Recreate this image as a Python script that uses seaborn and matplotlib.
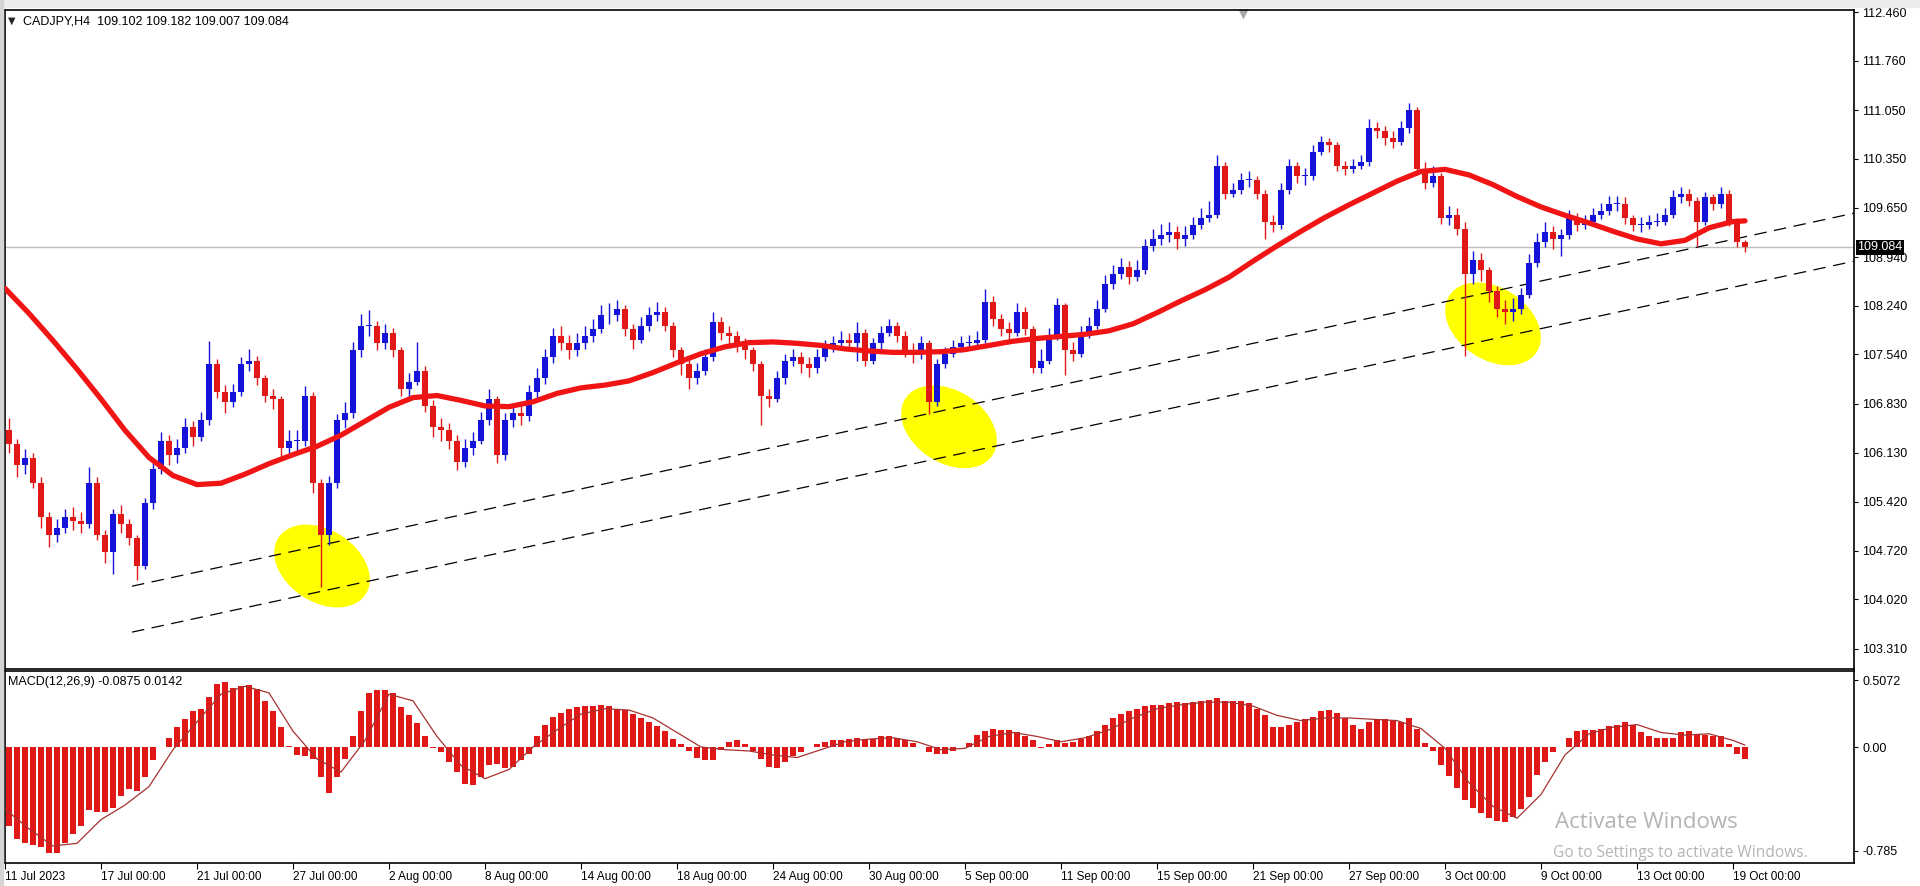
import numpy as np
import matplotlib
matplotlib.use("Agg")
import matplotlib.pyplot as plt
import seaborn as sns
from matplotlib.patches import Ellipse, Rectangle
from matplotlib.transforms import ScaledTranslation

# CADJPY H4 chart, candles merged by two (8h), one row per trading day
first_open = 106.45
close = [
    106.25, 105.95, 106.05,  # 11 Jul
    105.70, 105.20, 104.95,
    105.05, 105.20, 105.15,
    105.10, 105.70, 104.95,
    104.70, 105.25, 105.10,  # 17 Jul
    104.90, 104.50, 105.40,
    105.90, 106.30, 106.10,
    106.20, 106.50, 106.35,
    106.60, 107.40, 107.00,  # 21 Jul
    106.85, 107.00, 107.40,
    107.45, 107.20, 106.95,
    106.90, 106.20, 106.30,
    106.30, 106.95, 105.70,  # 27 Jul
    104.95, 105.70, 106.60,
    106.70, 107.60, 107.95,
    107.95, 107.70, 107.85,
    107.60, 107.05, 107.15,  # 2 Aug
    107.30, 106.80, 106.50,
    106.45, 106.30, 106.00,
    106.20, 106.30, 106.60,
    106.90, 106.10, 106.60,  # 8 Aug
    106.70, 106.65, 107.00,
    107.20, 107.50, 107.80,
    107.70, 107.60, 107.70,
    107.80, 107.90, 108.10,  # 14 Aug
    108.10, 108.20, 107.90,
    107.75, 107.95, 108.10,
    108.15, 107.95, 107.60,
    107.40, 107.20, 107.30,  # 18 Aug
    107.50, 108.00, 107.85,
    107.80, 107.70, 107.60,
    107.40, 106.95, 106.90,
    107.20, 107.45, 107.50,  # 24 Aug
    107.40, 107.35, 107.50,
    107.65, 107.70, 107.75,
    107.70, 107.85, 107.45,
    107.70, 107.85, 107.95,  # 30 Aug
    107.80, 107.60, 107.55,
    107.70, 106.85, 107.40,
    107.55, 107.65, 107.70,
    107.70, 107.75, 108.30,  # 5 Sep
    108.05, 107.90, 107.85,
    108.15, 107.90, 107.35,
    107.45, 107.80, 108.25,
    107.60, 107.55, 107.85,  # 11 Sep
    107.95, 108.20, 108.55,
    108.70, 108.80, 108.65,
    108.75, 109.10, 109.20,
    109.25, 109.30, 109.20,  # 15 Sep
    109.25, 109.40, 109.50,
    109.55, 110.25, 109.85,
    109.90, 110.05, 110.05,
    109.85, 109.45, 109.40,  # 21 Sep
    109.90, 110.25, 110.10,
    110.10, 110.45, 110.60,
    110.55, 110.25, 110.20,
    110.25, 110.30, 110.80,  # 27 Sep
    110.75, 110.65, 110.60,
    110.80, 111.05, 110.20,
    110.00, 110.10, 109.50,
    109.55, 109.35, 108.70,  # 3 Oct
    108.90, 108.75, 108.45,
    108.20, 108.15, 108.20,
    108.40, 108.85, 109.15,
    109.30, 109.20, 109.25,  # 9 Oct
    109.50, 109.40, 109.45,
    109.55, 109.60, 109.70,
    109.70, 109.50, 109.40,
    109.40, 109.45, 109.45,  # 13 Oct
    109.55, 109.80, 109.85,
    109.75, 109.45, 109.80,
    109.70, 109.85, 109.45,
    109.15, 109.084,         # 19 Oct
]
high = [
    106.62, 106.32, 106.18, 106.12, 105.78, 105.28, 105.18, 105.32, 105.35,
    105.28, 105.92, 105.78, 105.02, 105.32, 105.38, 105.18, 104.95, 105.48,
    106.00, 106.42, 106.38, 106.32, 106.62, 106.58, 106.72, 107.74, 107.48,
    107.10, 107.12, 107.50, 107.62, 107.52, 107.25, 107.05, 106.95, 106.45,
    106.45, 107.08, 107.00, 105.75, 105.80, 106.68, 106.85, 107.72, 108.12,
    108.18, 108.02, 107.98, 107.92, 107.65, 107.28, 107.72, 107.38, 106.88,
    106.62, 106.55, 106.38, 106.32, 106.42, 106.72, 107.05, 106.95, 106.70,
    106.82, 106.80, 107.10, 107.35, 107.62, 107.92, 107.95, 107.82, 107.85,
    107.95, 108.05, 108.25, 108.28, 108.32, 108.25, 107.98, 108.08, 108.22,
    108.30, 108.22, 108.00, 107.65, 107.48, 107.42, 107.62, 108.15, 108.08,
    107.95, 107.88, 107.78, 107.65, 107.45, 107.05, 107.30, 107.55, 107.62,
    107.58, 107.50, 107.62, 107.75, 107.80, 107.88, 107.85, 108.00, 107.90,
    107.78, 107.95, 108.05, 108.00, 107.88, 107.70, 107.80, 107.75, 107.48,
    107.65, 107.75, 107.80, 107.82, 107.88, 108.48, 108.38, 108.12, 108.00,
    108.28, 108.22, 107.95, 107.62, 107.92, 108.35, 108.28, 107.72, 107.95,
    108.08, 108.32, 108.68, 108.82, 108.92, 108.88, 108.90, 109.20, 109.35,
    109.42, 109.45, 109.38, 109.38, 109.52, 109.65, 109.75, 110.40, 110.30,
    110.00, 110.15, 110.18, 110.10, 109.90, 109.55, 110.00, 110.35, 110.30,
    110.22, 110.55, 110.68, 110.65, 110.60, 110.32, 110.35, 110.40, 110.92,
    110.88, 110.82, 110.75, 110.90, 111.16, 111.10, 110.30, 110.25, 110.15,
    109.68, 109.65, 109.45, 109.02, 109.00, 108.80, 108.52, 108.32, 108.35,
    108.50, 108.98, 109.28, 109.45, 109.38, 109.35, 109.62, 109.58, 109.55,
    109.65, 109.72, 109.82, 109.82, 109.80, 109.55, 109.52, 109.55, 109.58,
    109.65, 109.90, 109.95, 109.92, 109.80, 109.88, 109.85, 109.95, 109.90,
    109.50, 109.182,
]
low = [
    106.12, 105.78, 105.82, 105.62, 105.05, 104.78, 104.85, 104.98, 105.02,
    104.98, 105.05, 104.88, 104.55, 104.38, 104.98, 104.80, 104.30, 104.45,
    105.32, 105.82, 105.95, 105.98, 106.12, 106.22, 106.30, 106.52, 106.92,
    106.70, 106.78, 106.95, 107.30, 107.10, 106.85, 106.75, 106.05, 106.10,
    106.12, 106.22, 105.55, 104.20, 104.80, 105.62, 106.48, 106.62, 107.50,
    107.80, 107.60, 107.62, 107.50, 106.95, 106.92, 107.10, 106.72, 106.35,
    106.30, 106.18, 105.88, 105.92, 106.10, 106.25, 106.52, 105.98, 106.02,
    106.50, 106.52, 106.58, 106.92, 107.12, 107.42, 107.60, 107.48, 107.52,
    107.62, 107.72, 107.85, 107.98, 108.02, 107.80, 107.62, 107.70, 107.88,
    108.02, 107.88, 107.50, 107.25, 107.05, 107.12, 107.25, 107.45, 107.75,
    107.68, 107.58, 107.48, 107.30, 106.52, 106.78, 106.85, 107.12, 107.38,
    107.28, 107.22, 107.28, 107.45, 107.58, 107.62, 107.62, 107.45, 107.38,
    107.40, 107.62, 107.80, 107.72, 107.50, 107.42, 107.48, 106.68, 106.80,
    107.35, 107.50, 107.58, 107.60, 107.62, 107.70, 107.95, 107.80, 107.75,
    107.80, 107.82, 107.28, 107.28, 107.40, 107.75, 107.25, 107.45, 107.50,
    107.78, 107.90, 108.15, 108.48, 108.62, 108.55, 108.60, 108.70, 109.02,
    109.12, 109.15, 109.05, 109.10, 109.20, 109.35, 109.45, 109.50, 109.78,
    109.80, 109.85, 109.95, 109.78, 109.20, 109.30, 109.35, 109.85, 110.00,
    109.98, 110.05, 110.40, 110.45, 110.18, 110.12, 110.15, 110.20, 110.25,
    110.65, 110.55, 110.50, 110.55, 110.72, 110.12, 109.92, 109.95, 109.42,
    109.40, 109.25, 107.52, 108.55, 108.60, 108.30, 108.08, 107.98, 108.02,
    108.12, 108.35, 108.80, 109.08, 109.05, 108.95, 109.20, 109.32, 109.35,
    109.40, 109.48, 109.55, 109.60, 109.42, 109.32, 109.30, 109.35, 109.38,
    109.40, 109.50, 109.72, 109.68, 109.10, 109.40, 109.62, 109.65, 109.38,
    109.08, 109.007,
]
# red moving average, one value per day start, last one at the final bar
ma_day = [
    108.49, 108.13, 107.74, 107.33, 106.90, 106.45, 106.06, 105.80, 105.67, 105.69,
    105.82, 105.97, 106.10, 106.22, 106.38, 106.58, 106.78, 106.92, 106.95, 106.88,
    106.80, 106.79, 106.86, 106.98, 107.06, 107.10, 107.16, 107.28, 107.42, 107.55,
    107.65, 107.71, 107.72, 107.70, 107.67, 107.62, 107.59, 107.57, 107.57, 107.58,
    107.61, 107.67, 107.73, 107.77, 107.80, 107.83, 107.88, 107.98, 108.14, 108.31,
    108.47, 108.65, 108.88, 109.10, 109.31, 109.51, 109.69, 109.86, 110.03, 110.17,
    110.20, 110.12, 109.98, 109.81, 109.66, 109.54, 109.43, 109.31, 109.20, 109.13,
    109.18, 109.36, 109.45, 109.46,
]
# MACD main values, one per candle
macd = [
    -0.60, -0.70, -0.73, -0.74, -0.76, -0.80, -0.80, -0.73, -0.66, -0.60,
    -0.48, -0.49, -0.49, -0.46, -0.37, -0.32, -0.33, -0.23, -0.10, 0.00,
    0.07, 0.15, 0.21, 0.27, 0.29, 0.38, 0.48, 0.49, 0.45, 0.46,
    0.47, 0.44, 0.35, 0.27, 0.15, 0.01, -0.06, -0.07, -0.09, -0.23,
    -0.35, -0.23, -0.09, 0.08, 0.27, 0.41, 0.43, 0.43, 0.41, 0.30,
    0.24, 0.18, 0.08, -0.01, -0.04, -0.11, -0.19, -0.28, -0.29, -0.23,
    -0.14, -0.13, -0.16, -0.15, -0.10, -0.05, 0.08, 0.17, 0.23, 0.26,
    0.29, 0.30, 0.31, 0.31, 0.32, 0.31, 0.29, 0.28, 0.25, 0.22,
    0.19, 0.16, 0.12, 0.06, 0.02, -0.03, -0.08, -0.10, -0.10, -0.02,
    0.04, 0.05, 0.02, -0.03, -0.09, -0.15, -0.16, -0.11, -0.07, -0.04,
    0.00, 0.02, 0.04, 0.05, 0.05, 0.06, 0.07, 0.06, 0.06, 0.08,
    0.08, 0.07, 0.05, 0.03, 0.00, -0.04, -0.05, -0.05, -0.03, 0.00,
    0.03, 0.09, 0.12, 0.14, 0.13, 0.13, 0.11, 0.08, 0.05, -0.01,
    0.02, 0.05, 0.03, 0.04, 0.06, 0.08, 0.12, 0.17, 0.22, 0.25,
    0.27, 0.29, 0.31, 0.32, 0.32, 0.33, 0.34, 0.33, 0.34, 0.35,
    0.36, 0.37, 0.35, 0.35, 0.35, 0.33, 0.29, 0.24, 0.15, 0.15,
    0.17, 0.19, 0.21, 0.23, 0.27, 0.28, 0.26, 0.22, 0.17, 0.14,
    0.19, 0.21, 0.21, 0.20, 0.19, 0.22, 0.14, 0.03, -0.03, -0.14,
    -0.22, -0.31, -0.40, -0.46, -0.50, -0.54, -0.56, -0.57, -0.53, -0.47,
    -0.38, -0.21, -0.11, -0.04, 0.00, 0.07, 0.12, 0.13, 0.13, 0.14,
    0.16, 0.17, 0.19, 0.17, 0.11, 0.08, 0.07, 0.07, 0.07, 0.11,
    0.12, 0.10, 0.09, 0.08, 0.08, 0.02, -0.05, -0.0875,
]
# MACD signal line, per day start + last bar
signal_day = [
    -0.47, -0.62, -0.75, -0.73, -0.55, -0.44, -0.30, -0.02, 0.19, 0.40,
    0.46, 0.41, 0.12, -0.09, -0.19, 0.05, 0.40, 0.35, 0.08, -0.14,
    -0.24, -0.17, 0.00, 0.13, 0.25, 0.29, 0.28, 0.22, 0.11, 0.00,
    -0.02, -0.03, -0.06, -0.08, -0.02, 0.04, 0.06, 0.07, 0.04, -0.02,
    -0.01, 0.08, 0.11, 0.08, 0.04, 0.07, 0.13, 0.22, 0.29, 0.32,
    0.34, 0.34, 0.31, 0.24, 0.20, 0.22, 0.22, 0.21, 0.20, 0.14,
    -0.01, -0.27, -0.45, -0.54, -0.36, -0.06, 0.10, 0.15, 0.17, 0.11,
    0.09, 0.10, 0.05, 0.0142,
]
# hand drawn channel lines (bar index, price)
channel_x = [31.75, 462.25]
channel_upper = [104.21, 109.57]
channel_lower = [103.55, 108.88]
# yellow highlight marks (bar index, price)
mark_x = [79.25, 236.0, 372.0]
mark_y = [104.50, 106.50, 107.98]

price_ticks = [112.460, 111.760, 111.050, 110.350, 109.650, 108.940, 108.240,
               107.540, 106.830, 106.130, 105.420, 104.720, 104.020, 103.310]
macd_ticks = [0.5072, 0.0, -0.785]
macd_labels = ["0.5072", "0.00", "-0.785"]
date_labels = ["11 Jul 2023", "17 Jul 00:00", "21 Jul 00:00", "27 Jul 00:00",
               "2 Aug 00:00", "8 Aug 00:00", "14 Aug 00:00", "18 Aug 00:00",
               "24 Aug 00:00", "30 Aug 00:00", "5 Sep 00:00", "11 Sep 00:00",
               "15 Sep 00:00", "21 Sep 00:00", "27 Sep 00:00", "3 Oct 00:00",
               "9 Oct 00:00", "13 Oct 00:00", "19 Oct 00:00"]
last_price = 109.084

sns.set_style("white")
plt.rcParams['font.family'] = ['Liberation Sans', 'DejaVu Sans']

W, H = 1920, 886
BLUE = '#1414d8'
RED = '#e01818'

fig = plt.figure(figsize=(W / 100, H / 100), dpi=100)


def box(x0, y0, x1, y1):
    return [x0 / W, 1 - y1 / H, (x1 - x0) / W, (y1 - y0) / H]


# window chrome
fig.patches.append(Rectangle((0, 1 - 7 / H), 1, 7 / H, transform=fig.transFigure,
                             color='#ececec', zorder=0))
fig.patches.append(Rectangle((0, 0), 3 / W, 1, transform=fig.transFigure,
                             color='#d4d4d4', zorder=0))

ax = fig.add_axes(box(5, 10, 1854, 669))
axm = fig.add_axes(box(5, 671, 1854, 863), sharex=ax)

close_a = np.array(close)
open_a = np.array([first_open] + close[:-1])
xpos = np.arange(len(close)) * 2 + 1
colors = np.where(close_a >= open_a, BLUE, RED)

# candles
ax.vlines(xpos, low, high, colors=colors, lw=1, zorder=4)
body_lo = np.minimum(open_a, close_a)
body_h = np.maximum(np.abs(close_a - open_a), 0.012)
ax.bar(xpos, body_h, bottom=body_lo, width=1.3, color=colors, linewidth=0, zorder=5)

# moving average
ma_x = [6 * d for d in range(len(ma_day) - 1)] + [435]
sns.lineplot(x=ma_x, y=ma_day, ax=ax, color='#f01414', lw=3.8, zorder=6,
             solid_capstyle='round', solid_joinstyle='round')

# channel
for yy in (channel_upper, channel_lower):
    ax.plot(channel_x, yy, color='black', lw=0.9, ls=(0, (10, 6)), zorder=3)

ax.axhline(last_price, color='#bdbdbd', lw=1, zorder=1)

# highlight ellipses
for cx, cy in zip(mark_x, mark_y):
    tr = fig.dpi_scale_trans + ScaledTranslation(cx, cy, ax.transData)
    ax.add_patch(Ellipse((0, 0), width=1.04, height=0.72, angle=-33,
                         transform=tr, facecolor='#ffff00', edgecolor='none', zorder=2))

ax.set_xlim(0, 462.25)
ax.set_ylim(103.02, 112.49)
ax.yaxis.tick_right()
ax.set_yticks(price_ticks)
ax.set_yticklabels([f"{v:.3f}" for v in price_ticks])
ax.tick_params(axis='y', direction='out', length=3, width=0.8, pad=3,
               labelsize=9, colors='black', right=True, left=False)
ax.tick_params(axis='x', bottom=False, labelbottom=False)
ax.set_xlabel('')
ax.set_ylabel('')

# shift marker at top
ax.plot([0.6695], [0.994], marker='v', color='#a8a8a8', ms=7, mec='none',
        transform=ax.transAxes, clip_on=False)

# MACD pane
axm.bar(xpos, macd, width=1.5, color=RED, linewidth=0, zorder=2)
sig_x = [6 * d for d in range(len(signal_day) - 1)] + [435]
sns.lineplot(x=sig_x, y=signal_day, ax=axm, color='#a83030', lw=0.9, zorder=3)
axm.set_ylim(-0.879, 0.576)
axm.yaxis.tick_right()
axm.set_yticks(macd_ticks)
axm.set_yticklabels(macd_labels)
axm.tick_params(axis='y', direction='out', length=3, width=0.8, pad=3,
                labelsize=9, colors='black', right=True, left=False)
axm.set_xticks(np.arange(len(date_labels)) * 24)
axm.set_xticklabels(date_labels)
axm.tick_params(axis='x', direction='out', length=4, width=0.8, pad=2,
                labelsize=8.5, colors='black', bottom=True)
for lbl in axm.get_xticklabels():
    lbl.set_ha('left')
axm.set_xlabel('')
axm.set_ylabel('')
axm.set_xlim(0, 462.25)

for a in (ax, axm):
    for s in a.spines.values():
        s.set_color('black')
        s.set_linewidth(1.2)

# texts
fig.text(8 / W, 1 - 21 / H, "\u25bc", fontsize=7, va='center', family='DejaVu Sans')
fig.text(23 / W, 1 - 21 / H, "CADJPY,H4  109.102 109.182 109.007 109.084",
         fontsize=9, va='center', color='black')
fig.text(8 / W, 1 - 682 / H, "MACD(12,26,9) -0.0875 0.0142", fontsize=9,
         va='center', color='black')
fig.text(1857 / W, 1 - 247 / H, f"{last_price:.3f}", color='white', fontsize=9,
         va='center', ha='left',
         bbox=dict(boxstyle='square,pad=0.12', fc='black', ec='none'))
fig.text(1555 / W, 1 - 823 / H, "Activate Windows", fontsize=16, color='#b4b4b4',
         family='Open Sans', va='center')
fig.text(1553 / W, 1 - 853 / H, "Go to Settings to activate Windows.", fontsize=11.2,
         color='#b4b4b4', family='Open Sans', va='center')

fig.savefig('out.png', dpi=100)
